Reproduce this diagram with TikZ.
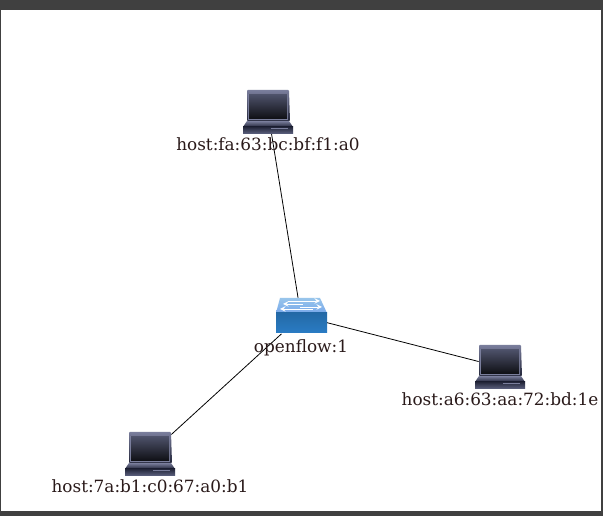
\documentclass[tikz,border=0pt]{standalone}
\usepackage{fontspec}
\usetikzlibrary{positioning}
\setmainfont{DejaVu Serif}
\definecolor{framegray}{HTML}{404040}
\definecolor{labelink}{HTML}{2A1A1A}
\definecolor{hostdark}{HTML}{23263A}
\definecolor{hostmid}{HTML}{5F6482}
\definecolor{hostlight}{HTML}{7A7E9C}
\definecolor{switchtop}{HTML}{86BBE8}
\definecolor{switchlow}{HTML}{2A7CC4}
\definecolor{switchmid}{HTML}{4A9FE2}
\begin{document}
\begin{tikzpicture}[x=0.02cm,y=-0.02cm,line join=round,font=\fontsize{9.6pt}{11pt}\selectfont,
	hostnode/.style={inner sep=0pt,minimum width=0.84cm,minimum height=0.84cm},
	switchnode/.style={inner sep=0pt,minimum width=1.02cm,minimum height=0.7cm},
	tag/.style={text=labelink,text height=7pt,text depth=2pt,inner sep=0pt},
	link/.style={draw=black,line width=0.45pt},
	flow/.style={white,line width=0.4pt,>=stealth},
	pics/hosticon/.style={code={
		\shade[top color=hostlight,bottom color=hostdark,rounded corners=0.5pt] (-21,-22)--(21,-22)--(22,9)--(-21,9)--cycle;
		\fill[hostlight] (-20,-18) rectangle (20,8);
		\shade[top color=hostmid!80!black,bottom color=black!85!hostmid] (-19,-17) rectangle (19,7);
		\shade[top color=hostlight,bottom color=hostdark] (-21,9)--(21,9)--(25,15)--(-25,15)--cycle;
		\shade[top color=hostdark,bottom color=hostmid] (-25,15) rectangle (25,22);
		\fill[hostlight] (3,16.5) rectangle (20,17.5);
	}},
	pics/switchicon/.style={code={
		\shade[top color=switchtop!85!white,bottom color=switchtop!90!blue] (-21,-18)--(19,-18)--(26,-3)--(-25,-3)--cycle;
		\shade[top color=switchlow!85!black,middle color=switchmid,bottom color=switchlow] (-25,-3) rectangle (26,17);
		\draw[flow,->] (-13,-15)--(19,-15);
		\draw[flow,<-] (-18,-12)--(2,-12);
		\draw[flow,->] (-1,-9)--(21,-9);
		\draw[flow,<-] (-21,-7)--(12,-7);
	}}]
	\useasboundingbox (0,0) rectangle (603,516);
	\fill[framegray] (0,0) rectangle (603,516);
	\fill[white] (1,10) rectangle (601,511);
	\node[hostnode] (hosttop) at (268,112){};
	\node[hostnode] (hostright) at (500,367){};
	\node[hostnode] (hostleft) at (150,454){};
	\node[switchnode] (switch) at (301,316){};
	\draw[link] (hosttop)--(switch);
	\draw[link] (switch)--(hostright);
	\draw[link] (switch)--(hostleft);
	\pic at (hosttop.center) {hosticon};
	\pic at (hostright.center) {hosticon};
	\pic at (hostleft.center) {hosticon};
	\pic at (switch.center) {switchicon};
	\node[tag,below=0.1cm of hosttop] (tagtop){host:fa:63:bc:bf:f1:a0};
	\node[tag,below=0.1cm of hostright] (tagright){host:a6:63:aa:72:bd:1e};
	\node[tag,below=0.1cm of hostleft] (tagleft){host:7a:b1:c0:67:a0:b1};
	\node[tag,below=0.12cm of switch] (tagswitch){openflow:1};
\end{tikzpicture}
\end{document}
